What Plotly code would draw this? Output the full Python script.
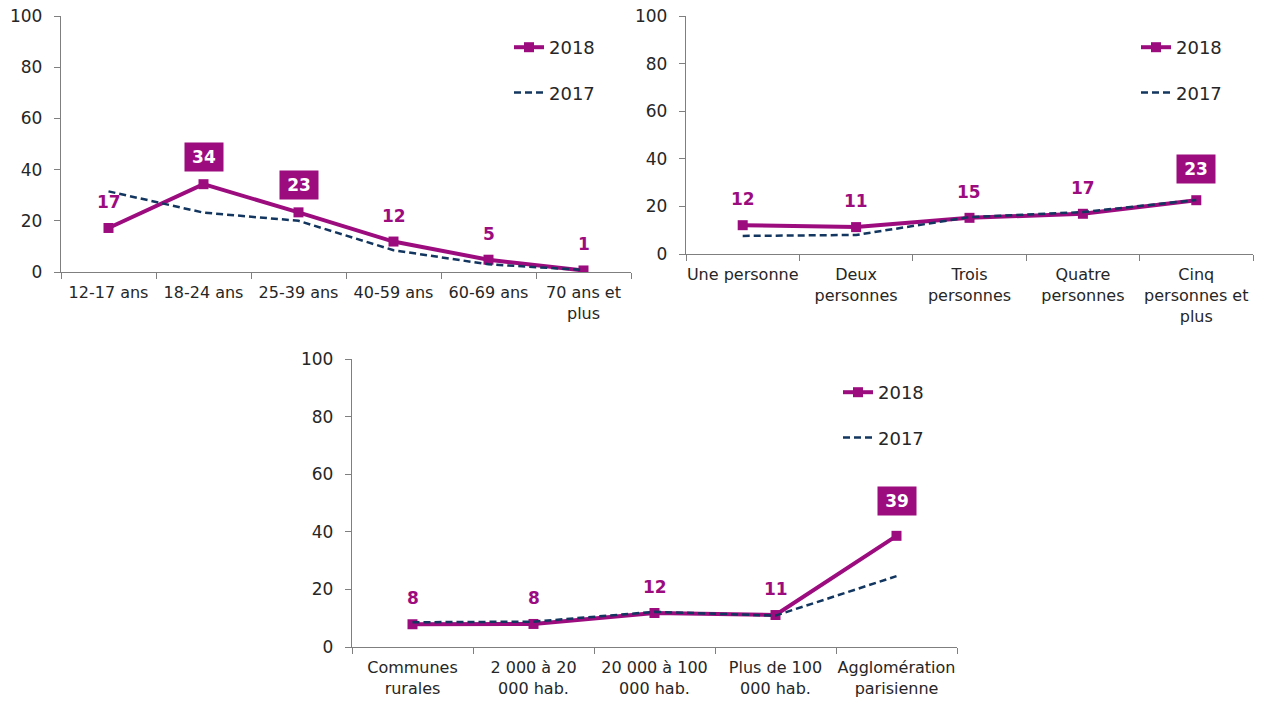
import plotly.graph_objects as go

# ---------------- data ----------------
age_categories = ["12-17 ans", "18-24 ans", "25-39 ans", "40-59 ans", "60-69 ans", "70 ans et<br>plus"]
age_2018 = [17.2, 34.3, 23.3, 11.9, 4.8, 0.6]
age_2017 = [31.5, 23.2, 20.0, 8.5, 3.0, 0.8]

household_categories = ["Une personne", "Deux<br>personnes", "Trois<br>personnes", "Quatre<br>personnes",
                        "Cinq<br>personnes et<br>plus"]
household_2018 = [12.1, 11.3, 15.2, 16.9, 22.6]
household_2017 = [7.6, 8.0, 15.5, 17.6, 22.7]

town_categories = ["Communes<br>rurales", "2 000 à 20<br>000 hab.", "20 000 à 100<br>000 hab.",
                   "Plus de 100<br>000 hab.", "Agglomération<br>parisienne"]
town_2018 = [7.9, 8.0, 11.8, 11.1, 38.6]
town_2017 = [8.6, 8.8, 12.2, 10.9, 24.6]

y_ticks = [0, 20, 40, 60, 80, 100]
series_names = ["2018", "2017"]

# ---------------- style ----------------
MAGENTA = "#9C0C7F"
NAVY = "#12365F"
AXIS = "#7F7F7F"
TEXT = "#262626"
FONT = "DejaVu Sans"

W, H = 1261, 701

panels = [
    dict(cats=age_categories, a=age_2018, b=age_2017, x=(61, 631), y=(16, 272), hl={1, 2},
         leg=(509, 29), box_shift=27),
    dict(cats=household_categories, a=household_2018, b=household_2017, x=(686, 1253), y=(16, 254), hl={4},
         leg=(1136, 29), box_shift=31),
    dict(cats=town_categories, a=town_2018, b=town_2017, x=(352, 957), y=(359, 647), hl={4},
         leg=(838, 374), box_shift=35),
]

fig = go.Figure()
layout = dict(
    width=W, height=H,
    margin=dict(l=0, r=0, t=0, b=0, autoexpand=False),
    paper_bgcolor="white", plot_bgcolor="white",
    font=dict(family=FONT, color=TEXT, size=16),
    showlegend=True,
)
annotations = []

for i, p in enumerate(panels, start=1):
    sfx = "" if i == 1 else str(i)
    xa, ya = "x" + sfx, "y" + sfx
    leg = "legend" if i == 1 else "legend" + str(i)
    fig.add_trace(go.Scatter(
        x=p["cats"], y=p["a"], name=series_names[0], xaxis=xa, yaxis=ya,
        mode="lines+markers", line=dict(color=MAGENTA, width=4),
        marker=dict(symbol="square", size=10, color=MAGENTA),
        legend=leg, legendgroup="a%d" % i,
    ))
    fig.add_trace(go.Scatter(
        x=p["cats"], y=p["b"], name=series_names[1], xaxis=xa, yaxis=ya,
        mode="lines", line=dict(color=NAVY, width=2.5, dash="7px,4px"),
        legend=leg, legendgroup="b%d" % i,
    ))
    x0, x1 = p["x"]
    yt, yb = p["y"]
    layout["xaxis" + sfx] = dict(
        domain=[x0 / W, x1 / W], anchor=ya, type="category",
        range=[-0.5, len(p["cats"]) - 0.5],
        showline=True, linecolor=AXIS, linewidth=1.3,
        ticks="outside", tickson="boundaries", ticklen=6, tickcolor=AXIS,
        showgrid=False, zeroline=False, automargin=False, tickangle=0,
        ticklabelstandoff=6,
        tickfont=dict(size=16, color=TEXT, family=FONT),
    )
    layout["yaxis" + sfx] = dict(
        domain=[1 - yb / H, 1 - yt / H], anchor=xa,
        range=[0, 100], tickvals=y_ticks,
        showline=True, linecolor=AXIS, linewidth=1.3,
        ticks="outside", ticklen=6, tickcolor=AXIS,
        showgrid=False, zeroline=False, automargin=False,
        ticklabelstandoff=8,
        tickfont=dict(size=17, color=TEXT, family=FONT),
    )
    lx, ly = p["leg"]
    layout[leg] = dict(
        x=lx / W, y=1 - ly / H, xanchor="left", yanchor="top",
        bgcolor="rgba(0,0,0,0)", tracegroupgap=19,
        font=dict(size=18, color=TEXT, family=FONT),
    )
    for j, (c, v) in enumerate(zip(p["cats"], p["a"])):
        label = str(int(round(v)))
        if j in p["hl"]:
            annotations.append(dict(
                x=c, y=v, xref=xa, yref=ya, text="<b>%s</b>" % label, showarrow=False,
                yshift=p["box_shift"], font=dict(size=17, color="white", family=FONT),
                bgcolor=MAGENTA, width=30, height=20, borderpad=4,
            ))
        else:
            annotations.append(dict(
                x=c, y=v, xref=xa, yref=ya, text="<b>%s</b>" % label, showarrow=False,
                yshift=26, font=dict(size=17, color=MAGENTA, family=FONT),
            ))

layout["annotations"] = annotations
fig.update_layout(**layout)
fig.write_html(
    "out.html",
    config={"displayModeBar": False},
    post_script="document.body.style.margin='0';document.body.style.padding='0';",
)
